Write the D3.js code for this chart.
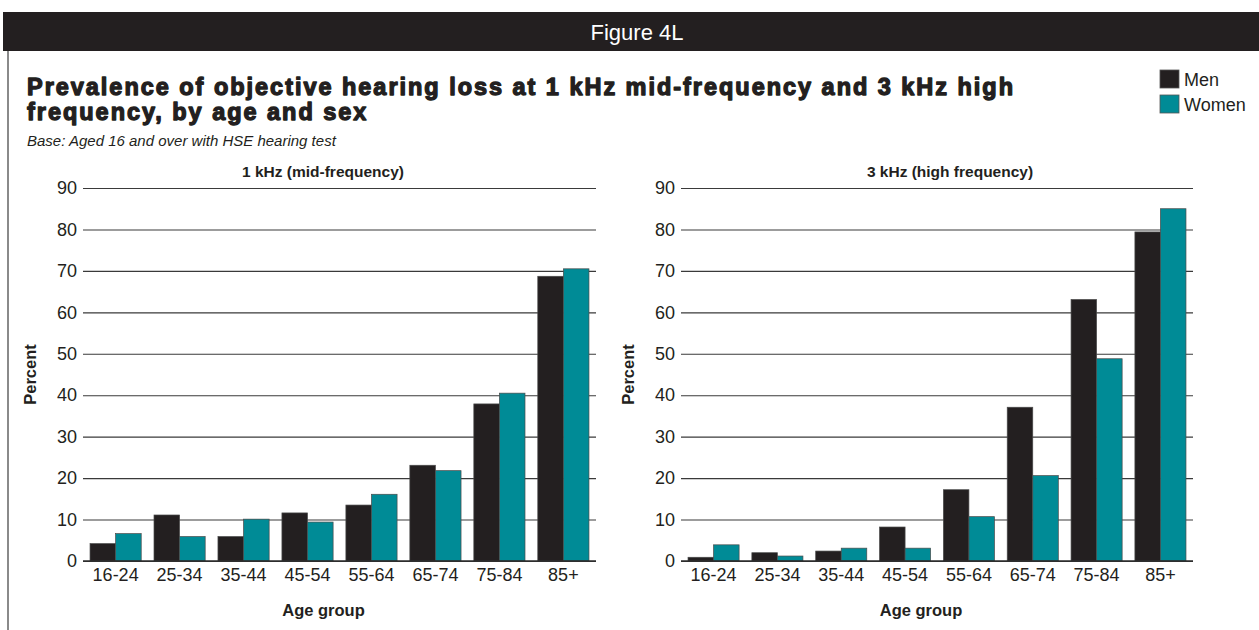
<!DOCTYPE html>
<html>
<head>
<meta charset="utf-8">
<script src="https://cdn.jsdelivr.net/npm/d3@7"></script>
<style>
  html, body { margin: 0; padding: 0; background: #fff; }
  svg { display: block; font-family: "Liberation Sans", Arial, Helvetica, sans-serif; }
</style>
</head>
<body>
<svg id="chart" width="1259" height="630"></svg>
<script>
// ---- data ----
const ageGroups = ["16-24", "25-34", "35-44", "45-54", "55-64", "65-74", "75-84", "85+"];
const sexes = ["Men", "Women"];
const men1k   = [4.2, 11.1, 5.9, 11.6, 13.5, 23.1, 37.9, 68.7];
const women1k = [6.6, 5.9, 10.1, 9.4, 16.1, 21.8, 40.5, 70.5];
const men3k   = [0.9, 2.0, 2.4, 8.2, 17.2, 37.1, 63.1, 79.4];
const women3k = [3.9, 1.2, 3.1, 3.1, 10.7, 20.6, 48.8, 85.0];
const yTicks = [0, 10, 20, 30, 40, 50, 60, 70, 80, 90];
const figureLabel = "Figure 4L";
const titleLines = ["Prevalence of objective hearing loss at 1 kHz mid-frequency and 3 kHz high", "frequency, by age and sex"];
const subtitle = "Base: Aged 16 and over with HSE hearing test";
const panelTitles = ["1 kHz (mid-frequency)", "3 kHz (high frequency)"];
const yLabel = "Percent";
const xLabel = "Age group";

const colors = { Men: "#231f20", Women: "#008b96" };
const dark = "#231f20";

const svg = d3.select("#chart");

// ---- header bar ----
svg.append("rect").attr("x", 3).attr("y", 12).attr("width", 1256).attr("height", 39).attr("fill", dark);
svg.append("text").attr("x", 637).attr("y", 40).attr("text-anchor", "middle")
  .attr("fill", "#fff").attr("font-size", 22).text(figureLabel);

// left border
svg.append("line").attr("x1", 8).attr("x2", 8).attr("y1", 51).attr("y2", 630)
  .attr("stroke", "#8a8a8a").attr("stroke-width", 2);

// ---- title ----
const title = svg.append("g");
const tl = title.selectAll("text").data(titleLines).join("text")
  .attr("x", 27).attr("y", (d, i) => 95 + i * 25)
  .attr("fill", dark).attr("font-weight", "bold")
  .attr("stroke", dark).attr("stroke-width", 1.3).attr("stroke-linejoin", "round")
  .attr("font-size", 23.5).text(d => d);
// widen letter spacing so the first line spans the reference width
const w0 = tl.node().getComputedTextLength();
const ls = (986 - w0) / (titleLines[0].length - 1);
tl.attr("letter-spacing", ls);

svg.append("text").attr("x", 27).attr("y", 146).attr("font-style", "italic")
  .attr("font-size", 15).attr("fill", dark).text(subtitle);

// ---- legend ----
const legend = svg.append("g");
sexes.forEach((s, i) => {
  const yy = 70 + i * 25;
  legend.append("rect").attr("x", 1160).attr("y", yy).attr("width", 19).attr("height", 18)
    .attr("fill", colors[s]).attr("stroke", "#555").attr("stroke-width", 0.8);
  legend.append("text").attr("x", 1184).attr("y", yy + 16).attr("font-size", 18)
    .attr("fill", dark).text(s);
});

// ---- panels ----
const y = d3.scaleLinear().domain([0, 90]).range([561, 188]);

function panel(x0, x1, menVals, womenVals, ptitle, titleX) {
  const g = svg.append("g");
  const x = d3.scaleBand().domain(ageGroups).range([x0, x1]).paddingInner(0.2).paddingOuter(0.11);
  const xs = d3.scaleBand().domain(sexes).range([0, x.bandwidth()]);

  // grid + y tick labels
  const ya = g.append("g").attr("transform", `translate(${x0},0)`)
    .call(d3.axisLeft(y).tickValues(yTicks).tickSize(-(x1 - x0)).tickPadding(6));
  ya.select(".domain").remove();
  ya.selectAll(".tick line").attr("stroke", "#3a3a3a").attr("stroke-width", 1.1);
  ya.selectAll(".tick text").attr("font-size", 18).attr("fill", dark)
    .attr("font-family", "'Liberation Sans', Arial, sans-serif");

  // bars
  const data = ageGroups.map((a, i) => ({ age: a, vals: [{ s: "Men", v: menVals[i] }, { s: "Women", v: womenVals[i] }] }));
  g.append("g").selectAll("g").data(data).join("g")
    .attr("transform", d => `translate(${x(d.age)},0)`)
    .selectAll("rect").data(d => d.vals).join("rect")
    .attr("x", d => xs(d.s)).attr("width", xs.bandwidth())
    .attr("y", d => y(d.v)).attr("height", d => y(0) - y(d.v))
    .attr("fill", d => colors[d.s]).attr("stroke", "#4a4a4a").attr("stroke-width", 0.7);

  // baseline
  g.append("line").attr("x1", x0).attr("x2", x1).attr("y1", y(0)).attr("y2", y(0))
    .attr("stroke", "#2a2a2a").attr("stroke-width", 1.3);

  // x axis labels
  const xa = g.append("g").attr("transform", `translate(0,${y(0)})`)
    .call(d3.axisBottom(x).tickSize(0).tickPadding(7));
  xa.select(".domain").remove();
  xa.selectAll(".tick text").attr("font-size", 18).attr("fill", dark)
    .attr("font-family", "'Liberation Sans', Arial, sans-serif");

  // panel title
  g.append("text").attr("x", titleX).attr("y", 177).attr("text-anchor", "middle")
    .attr("font-weight", "bold").attr("font-size", 15.5).attr("fill", dark).text(ptitle);

  // axis titles
  g.append("text").attr("transform", `translate(${x0 - 47},${(y(0) + y(90)) / 2}) rotate(-90)`)
    .attr("text-anchor", "middle").attr("font-weight", "bold").attr("font-size", 16.5)
    .attr("fill", dark).text(yLabel);
  g.append("text").attr("x", (x0 + x1) / 2 - 16).attr("y", 616).attr("text-anchor", "middle")
    .attr("font-weight", "bold").attr("font-size", 16.5).attr("fill", dark).text(xLabel);
}

panel(83, 596, men1k, women1k, panelTitles[0], 323);
panel(681, 1193, men3k, women3k, panelTitles[1], 950);
</script>
</body>
</html>
